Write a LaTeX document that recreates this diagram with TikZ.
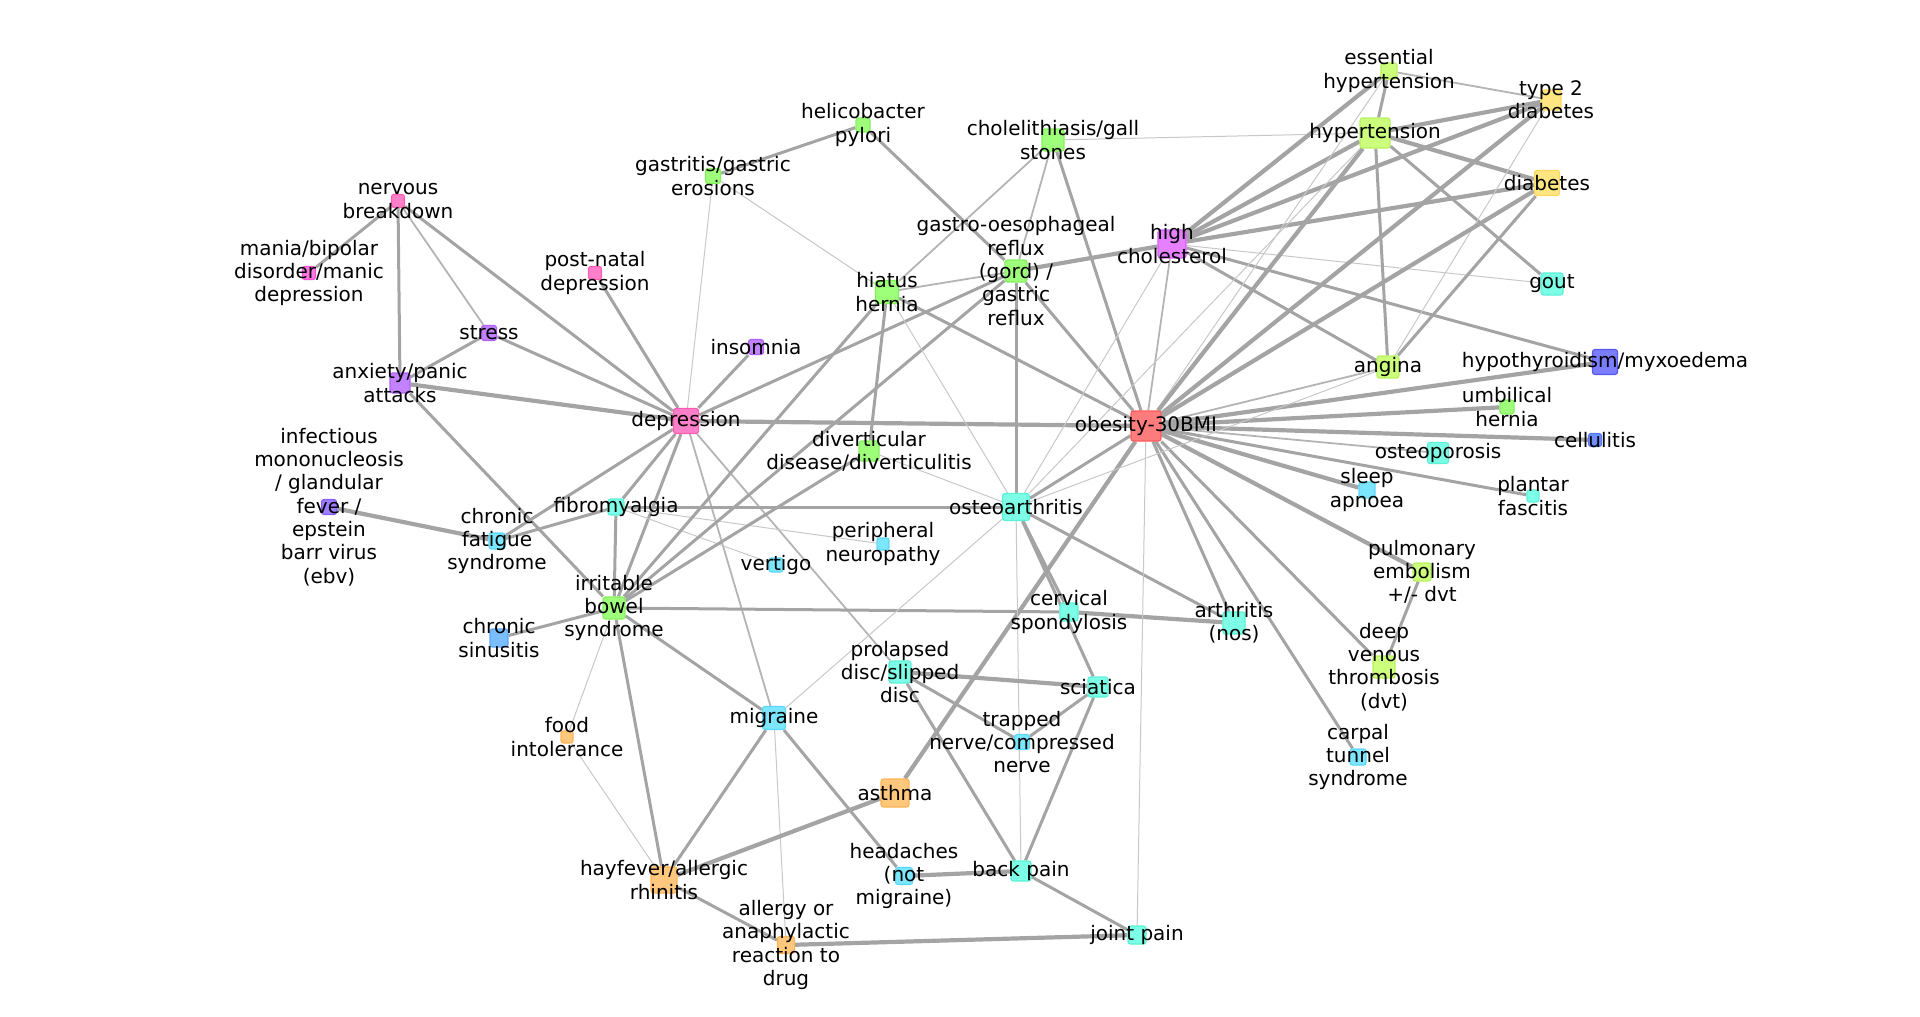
\documentclass[tikz,border=0pt]{standalone}
\usepackage{fontspec}
\setmainfont{DejaVu Sans}
\usetikzlibrary{backgrounds}
\definecolor{pinkF}{HTML}{FF80C8}\definecolor{pinkD}{HTML}{FF5CB4}
\definecolor{magF}{HTML}{FF78E4}\definecolor{magD}{HTML}{F850D4}
\definecolor{hcF}{HTML}{E680FF}\definecolor{hcD}{HTML}{D25CF4}
\definecolor{purpF}{HTML}{C282FF}\definecolor{purpD}{HTML}{AE62F6}
\definecolor{violF}{HTML}{9C7EFF}\definecolor{violD}{HTML}{8660F6}
\definecolor{indF}{HTML}{7C7CFF}\definecolor{indD}{HTML}{5858EE}
\definecolor{cellF}{HTML}{6E8EFF}\definecolor{cellD}{HTML}{5676F0}
\definecolor{sinF}{HTML}{7ABEFF}\definecolor{sinD}{HTML}{5EA6F6}
\definecolor{skyF}{HTML}{7CE6FF}\definecolor{skyD}{HTML}{5CD8F6}
\definecolor{aquaF}{HTML}{7CFFE6}\definecolor{aquaD}{HTML}{5CF0D6}
\definecolor{grnF}{HTML}{9EFF7A}\definecolor{grnD}{HTML}{84F05E}
\definecolor{limeF}{HTML}{CCFF7C}\definecolor{limeD}{HTML}{B8F060}
\definecolor{yelF}{HTML}{FFE682}\definecolor{yelD}{HTML}{FFD65E}
\definecolor{redF}{HTML}{FF7C7C}\definecolor{redD}{HTML}{FF5A5A}
\definecolor{orF}{HTML}{FFC87C}\definecolor{orD}{HTML}{FFB454}
\definecolor{edgeG}{HTML}{A4A4A4}
\definecolor{edgeL}{HTML}{B4B4B4}
\definecolor{edgeH}{HTML}{C8C8C8}

\begin{document}
\begin{tikzpicture}[x=1pt,y=-1pt,
    box/.style ={rectangle, rounded corners=2.5pt, line width=1.2pt, inner sep=0pt, minimum size=#1},
    every label/.style={align=center, font=\fontsize{20}{23.3}\selectfont, inner sep=0pt},
    cpink/.style={fill=pinkF, draw=pinkD}, cmag/.style={fill=magF, draw=magD},
    chc/.style={fill=hcF, draw=hcD}, cpurp/.style={fill=purpF, draw=purpD},
    cviol/.style={fill=violF, draw=violD}, cind/.style={fill=indF, draw=indD},
    ccell/.style={fill=cellF, draw=cellD}, csin/.style={fill=sinF, draw=sinD},
    csky/.style={fill=skyF, draw=skyD}, caqua/.style={fill=aquaF, draw=aquaD},
    cgrn/.style={fill=grnF, draw=grnD}, clime/.style={fill=limeF, draw=limeD},
    cyel/.style={fill=yelF, draw=yelD}, cred/.style={fill=redF, draw=redD},
    cor/.style={fill=orF, draw=orD},
    fat/.style={line width=4.2pt, draw=edgeG},
    mid/.style={line width=3pt, draw=edgeG},
    slim/.style={line width=1.8pt, draw=edgeL},
    hair/.style={line width=1pt, draw=edgeH}]
   \path[use as bounding box] (0,0) rectangle (1920,1017);

   \node[box=13, cpink] (nb) [label={center:nervous\\breakdown}] at (398,201) {};
   \node[box=13, cmag] (mania) [label={center:mania/bipolar\\disorder/manic\\depression}] at (309,273) {};
   \node[box=13, cpink] (pnd) [label={center:post-natal\\depression}] at (595,273) {};
   \node[box=15, cpurp] (stress) [label={center:stress}] at (489,333) {};
   \node[box=20, cpurp] (anx) [label={center:anxiety/panic\\attacks}] at (400,383) {};
   \node[box=25, cpink] (dep) [label={center:depression}] at (686,421) {};
   \node[box=15, cpurp] (ins) [label={center:insomnia}] at (756,347) {};
   \node[box=15, cviol] (mono) [label={center:infectious\\mononucleosis\\/ glandular\\fever /\\epstein\\barr virus\\(ebv)}] at (329,507) {};
   \node[box=16, csky] (cfs) [label={center:chronic\\fatigue\\syndrome}] at (497,541) {};
   \node[box=16, caqua] (fib) [label={center:fibromyalgia}] at (616,507) {};
   \node[box=22, cgrn] (ibs) [label={center:irritable\\bowel\\syndrome}] at (614,608) {};
   \node[box=18, csin] (sin) [label={center:chronic\\sinusitis}] at (499,638) {};
   \node[box=12, cor] (food) [label={center:food\\intolerance}] at (567,737) {};
   \node[box=14, csky] (vert) [label={center:vertigo}] at (776,565) {};
   \node[box=23, csky] (mig) [label={center:migraine}] at (774,718) {};
   \node[box=12, csky] (pn) [label={center:peripheral\\neuropathy}] at (883,544) {};
   \node[box=14, cgrn] (hp) [label={center:helicobacter\\pylori}] at (863,125) {};
   \node[box=15, cgrn] (gas) [label={center:gastritis/gastric\\erosions}] at (713,176) {};
   \node[box=23, cgrn] (hh) [label={center:hiatus\\hernia}] at (887,292) {};
   \node[box=22, cgrn] (gord) [label={center:gastro-oesophageal\\reflux\\(gord) /\\gastric\\reflux}] at (1016,271) {};
   \node[box=22, cgrn] (chole) [label={center:cholelithiasis/gall\\stones}] at (1053,140) {};
   \node[box=28, chc] (hc) [label={center:high\\cholesterol}] at (1172,244) {};
   \node[box=16, clime] (eh) [label={center:essential\\hypertension}] at (1389,71) {};
   \node[box=30, clime] (ht) [label={center:hypertension}] at (1375,133) {};
   \node[box=20, cyel] (t2d) [label={center:type 2\\diabetes}] at (1551,100) {};
   \node[box=25, cyel] (diab) [label={center:diabetes}] at (1547,183) {};
   \node[box=22, caqua] (gout) [label={center:gout}] at (1552,284) {};
   \node[box=22, clime] (ang) [label={center:angina}] at (1388,367) {};
   \node[box=25, cind] (hypo) [label={center:hypothyroidism/myxoedema}] at (1605,362) {};
   \node[box=14, cgrn] (umb) [label={center:umbilical\\hernia}] at (1507,407) {};
   \node[box=13, ccell] (cell) [label={center:cellulitis}] at (1595,440) {};
   \node[box=21, caqua] (osp) [label={center:osteoporosis}] at (1438,453) {};
   \node[box=16, csky] (sleep) [label={center:sleep\\apnoea}] at (1367,490) {};
   \node[box=12, caqua] (plant) [label={center:plantar\\fascitis}] at (1533,496) {};
   \node[box=18, clime] (pe) [label={center:pulmonary\\embolism\\+/- dvt}] at (1422,572) {};
   \node[box=22, clime] (dvt) [label={center:deep\\venous\\thrombosis\\(dvt)}] at (1384,667) {};
   \node[box=16, csky] (carp) [label={center:carpal\\tunnel\\syndrome}] at (1358,757) {};
   \node[box=30, cred] (ob) [label={center:obesity-30BMI}] at (1146,426) {};
   \node[box=27, caqua] (oa) [label={center:osteoarthritis}] at (1016,507) {};
   \node[box=18, caqua] (cerv) [label={center:cervical\\spondylosis}] at (1069,612) {};
   \node[box=22, caqua] (arth) [label={center:arthritis\\(nos)}] at (1234,623) {};
   \node[box=20, cgrn] (div) [label={center:diverticular\\disease/diverticulitis}] at (869,451) {};
   \node[box=22, caqua] (pd) [label={center:prolapsed\\disc/slipped\\disc}] at (900,672) {};
   \node[box=20, caqua] (sci) [label={center:sciatica}] at (1098,687) {};
   \node[box=15, csky] (tn) [label={center:trapped\\nerve/compressed\\nerve}] at (1022,742) {};
   \node[box=28, cor] (asth) [label={center:asthma}] at (895,793) {};
   \node[box=26, cor] (hay) [label={center:hayfever/allergic\\rhinitis}] at (664,880) {};
   \node[box=17, csky] (head) [label={center:headaches\\(not\\migraine)}] at (904,876) {};
   \node[box=20, caqua] (bp) [label={center:back pain}] at (1021,871) {};
   \node[box=18, caqua] (jp) [label={center:joint pain}] at (1137,935) {};
   \node[box=17, cor] (allg) [label={center:allergy or\\anaphylactic\\reaction to\\drug}] at (786,945) {};

   \begin{scope}[on background layer]
   \draw[mid] (nb) to (mania);
   \draw[mid] (nb) to (anx);
   \draw[slim] (nb) to (stress);
   \draw[mid] (nb) to (dep);
   \draw[mid] (stress) to (anx);
   \draw[mid] (stress) to (dep);
   \draw[fat] (anx) to (dep);
   \draw[mid] (anx) to (ibs);
   \draw[mid] (pnd) to (dep);
   \draw[mid] (ins) to (dep);
   \draw[mid] (dep) to (gord);
   \draw[fat] (dep) to (ob);
   \draw[mid] (dep) to (fib);
   \draw[mid] (dep) to (cfs);
   \draw[mid] (dep) to (ibs);
   \draw[slim] (dep) to (mig);
   \draw[slim] (dep) to (pd);
   \draw[fat] (mono) to (cfs);
   \draw[mid] (cfs) to (fib);
   \draw[mid] (fib) to (oa);
   \draw[mid] (fib) to (ibs);
   \draw[hair] (fib) to (vert);
   \draw[hair] (fib) to (pn);
   \draw[mid] (ibs) to (hh);
   \draw[mid] (ibs) to (gord);
   \draw[mid] (ibs) to (div);
   \draw[mid] (ibs) to (cerv);
   \draw[mid] (ibs) to (sin);
   \draw[mid] (ibs) to (mig);
   \draw[hair] (ibs) to (food);
   \draw[mid] (ibs) to (hay);
   \draw[mid] (hp) to (gas);
   \draw[mid] (hp) to (gord);
   \draw[hair] (gas) to (dep);
   \draw[hair] (gas) to (hh);
   \draw[hair] (chole) to (ht);
   \draw[slim] (chole) to (hh);
   \draw[mid] (chole) to (ob);
   \draw[slim] (chole) to (gord);
   \draw[slim] (hh) to (gord);
   \draw[mid] (hh) to (div);
   \draw[mid] (hh) to (ob);
   \draw[hair] (hh) to (oa);
   \draw[fat] (gord) to (hc);
   \draw[mid] (gord) to (oa);
   \draw[mid] (gord) to (ob);
   \draw[fat] (hc) to (ht);
   \draw[fat] (hc) to (eh);
   \draw[fat] (hc) to (t2d);
   \draw[fat] (hc) to (diab);
   \draw[hair] (hc) to (gout);
   \draw[mid] (hc) to (hypo);
   \draw[mid] (hc) to (ang);
   \draw[slim] (hc) to (ob);
   \draw[hair] (hc) to (oa);
   \draw[mid] (eh) to (ht);
   \draw[slim] (eh) to (t2d);
   \draw[hair] (eh) to (ob);
   \draw[fat] (ht) to (t2d);
   \draw[fat] (ht) to (diab);
   \draw[mid] (ht) to (gout);
   \draw[mid] (ht) to (ang);
   \draw[fat] (ht) to (ob);
   \draw[hair] (ht) to (oa);
   \draw[fat] (t2d) to (ob);
   \draw[hair] (t2d) to (ang);
   \draw[fat] (diab) to (ob);
   \draw[mid] (diab) to (ang);
   \draw[slim] (ang) to (ob);
   \draw[fat] (hypo) to (ob);
   \draw[fat] (umb) to (ob);
   \draw[fat] (cell) to (ob);
   \draw[slim] (osp) to (ob);
   \draw[fat] (sleep) to (ob);
   \draw[mid] (plant) to (ob);
   \draw[fat] (pe) to (ob);
   \draw[mid] (pe) to (dvt);
   \draw[mid] (dvt) to (ob);
   \draw[mid] (carp) to (ob);
   \draw[mid] (arth) to (ob);
   \draw[mid] (arth) to (oa);
   \draw[fat] (arth) to (cerv);
   \draw[hair] (jp) to (ob);
   \draw[fat] (asth) to (ob);
   \draw[mid] (oa) to (ob);
   \draw[mid] (oa) to (cerv);
   \draw[mid] (oa) to (sci);
   \draw[hair] (oa) to (bp);
   \draw[hair] (oa) to (mig);
   \draw[hair] (oa) to (div);
   \draw[hair] (oa) to (ang);
   \draw[mid] (mig) to (hay);
   \draw[mid] (mig) to (head);
   \draw[hair] (mig) to (allg);
   \draw[fat] (pd) to (sci);
   \draw[mid] (pd) to (tn);
   \draw[mid] (pd) to (bp);
   \draw[mid] (sci) to (tn);
   \draw[mid] (sci) to (bp);
   \draw[fat] (bp) to (head);
   \draw[mid] (bp) to (jp);
   \draw[fat] (asth) to (hay);
   \draw[hair] (hay) to (food);
   \draw[mid] (hay) to (allg);
   \draw[fat] (allg) to (jp);
   \end{scope}
 \end{tikzpicture}
\end{document}
